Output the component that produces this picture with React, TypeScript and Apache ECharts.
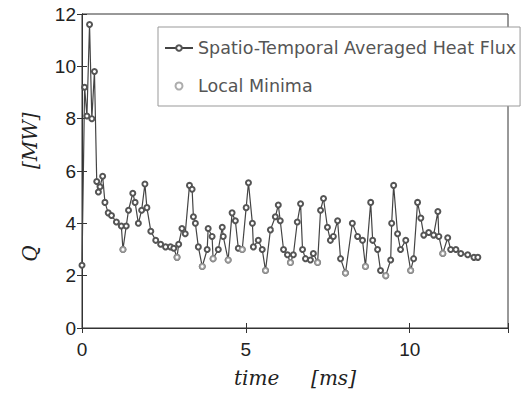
import React, { useEffect, useRef } from "react";
import * as echarts from "echarts";

const timeMs = [
  0.0, 0.08, 0.15, 0.23, 0.3, 0.38, 0.45, 0.5, 0.55, 0.63, 0.7, 0.8, 0.9, 1.05, 1.2, 1.25, 1.35, 1.42, 1.55, 1.62,
  1.72, 1.82, 1.92, 1.98, 2.1, 2.25, 2.4, 2.55, 2.7, 2.8, 2.9, 2.95, 3.05, 3.15, 3.28, 3.36, 3.4, 3.46, 3.55, 3.67,
  3.82, 3.85, 3.97, 4.0, 4.16, 4.28, 4.31, 4.46, 4.58, 4.68, 4.77, 4.89, 5.01, 5.08, 5.2, 5.23, 5.38, 5.5, 5.6, 5.75,
  5.9, 5.99, 6.05, 6.15, 6.27, 6.36, 6.45, 6.57, 6.67, 6.73, 6.82, 6.97, 7.06, 7.19, 7.28, 7.37, 7.49, 7.58, 7.67, 7.8,
  7.89, 8.04, 8.25, 8.41, 8.56, 8.65, 8.81, 8.87, 9.02, 9.11, 9.27, 9.42, 9.45, 9.51, 9.63, 9.72, 9.88, 10.03, 10.12, 10.24,
  10.34, 10.43, 10.58, 10.73, 10.86, 10.89, 11.01, 11.16, 11.25, 11.41, 11.56, 11.77, 11.96, 12.08,
];

const heatFlux = [
  2.4, 9.2, 8.1, 11.6, 8.0, 9.8, 5.6, 5.2, 5.4, 5.8, 4.8, 4.4, 4.3, 4.05, 3.9, 3.0, 3.9, 4.5, 5.15, 4.8,
  4.0, 4.5, 5.5, 4.6, 3.7, 3.35, 3.2, 3.1, 3.1, 3.05, 2.7, 3.2, 3.8, 3.6, 5.45, 5.3, 4.25, 4.0, 3.1, 2.35,
  3.0, 3.8, 3.5, 2.65, 3.0, 3.85, 3.5, 2.6, 4.4, 4.1, 3.05, 3.0, 4.6, 5.55, 4.0, 3.1, 3.35, 3.0, 2.2, 3.75,
  4.25, 4.7, 4.1, 3.0, 2.8, 2.5, 2.8, 4.05, 4.75, 3.0, 2.65, 2.6, 2.85, 2.5, 4.5, 4.95, 3.85, 3.35, 3.5, 4.1,
  2.65, 2.1, 4.0, 3.5, 3.35, 2.35, 4.8, 3.35, 3.0, 2.2, 2.0, 2.6, 4.0, 5.45, 3.6, 3.0, 3.35, 2.2, 2.65, 4.8,
  4.2, 3.55, 3.65, 3.55, 4.45, 3.5, 2.85, 3.45, 3.0, 3.0, 2.85, 2.8, 2.7, 2.7,
];

const minimaTime = [1.25, 2.9, 3.67, 4.0, 4.46, 4.89, 5.6, 6.36, 7.19, 8.04, 8.65, 9.27, 10.03, 11.01];
const minimaValue = [3.0, 2.7, 2.35, 2.65, 2.6, 3.0, 2.2, 2.5, 2.5, 2.1, 2.35, 2.0, 2.2, 2.85];

const xTicks = [0, 5, 10];
const yTicks = [0, 2, 4, 6, 8, 10, 12];

const seriesNames = ["Spatio-Temporal Averaged Heat Flux", "Local Minima"];
const xTitle = "time     [ms]";
const yTitle = "Q            [MW]";

export default function App() {
  const ref = useRef<HTMLDivElement>(null);
  useEffect(() => {
    if (!ref.current) return;
    const chart = echarts.init(ref.current, undefined, { renderer: "svg" });
    const labelFont = { fontFamily: "Liberation Sans, Arial, sans-serif", fontSize: 19, color: "#222" };
    const titleFont = { fontFamily: "DejaVu Serif, serif", fontStyle: "italic", fontSize: 20, color: "#222" };
    const frameLine = { lineStyle: { color: "#333" } };
    const tick = { inside: true, length: 5, lineStyle: { color: "#333" } };
    chart.setOption({
      animation: false,
      backgroundColor: "#fff",
      grid: { left: 82, right: 18, top: 14, bottom: 73, show: true, borderColor: "#333", borderWidth: 1 },
      legend: {
        left: 158,
        top: 27,
        orient: "vertical",
        padding: [12, 4, 11, 6],
        itemGap: 20,
        itemWidth: 28,
        itemHeight: 7,
        backgroundColor: "#fff",
        borderColor: "#999",
        borderWidth: 1,
        textStyle: { fontFamily: "DejaVu Sans, sans-serif", fontSize: 17.5, color: "#555" },
        data: seriesNames,
      },
      graphic: [
        {
          type: "text",
          x: 30,
          y: 187,
          rotation: Math.PI / 2,
          style: { text: yTitle, ...titleFont, fill: "#222", align: "center", verticalAlign: "middle" },
        },
      ],
      xAxis: [
        {
          type: "value",
          min: 0,
          max: 13,
          interval: 5,
          name: xTitle,
          nameLocation: "middle",
          nameGap: 40,
          nameTextStyle: titleFont,
          axisLine: frameLine,
          axisTick: tick,
          axisLabel: {
            ...labelFont,
            margin: 12,
            formatter: (v: number) => (xTicks.includes(v) ? String(v) : ""),
          },
          splitLine: { show: false },
        },
        {
          type: "value",
          position: "top",
          min: 0,
          max: 13,
          interval: 5,
          axisLine: frameLine,
          axisTick: tick,
          axisLabel: { show: false },
          splitLine: { show: false },
        },
      ],
      yAxis: [
        {
          type: "value",
          min: 0,
          max: 12,
          interval: 2,
          axisLine: frameLine,
          axisTick: tick,
          axisLabel: {
            ...labelFont,
            margin: 6,
            formatter: (v: number) => (yTicks.includes(v) ? String(v) : ""),
          },
          splitLine: { show: false },
        },
        {
          type: "value",
          position: "right",
          min: 0,
          max: 12,
          interval: 2,
          axisLine: frameLine,
          axisTick: tick,
          axisLabel: { show: false },
          splitLine: { show: false },
        },
      ],
      series: [
        {
          name: seriesNames[0],
          type: "line",
          data: timeMs.map((t, i) => [t, heatFlux[i]]),
          symbol: "emptyCircle",
          symbolSize: 5,
          showSymbol: true,
          lineStyle: { color: "#444", width: 1.2 },
          itemStyle: { color: "#555", borderColor: "#555", borderWidth: 1.2 },
          z: 2,
        },
        {
          name: seriesNames[1],
          type: "scatter",
          data: minimaTime.map((t, i) => [t, minimaValue[i]]),
          symbol: "emptyCircle",
          symbolSize: 5,
          itemStyle: { color: "#999", borderColor: "#999", borderWidth: 1 },
          z: 3,
        },
      ],
    });
    return () => chart.dispose();
  }, []);
  return <div ref={ref} style={{ position: "fixed", left: 0, top: 0, width: 526, height: 401 }} />;
}
